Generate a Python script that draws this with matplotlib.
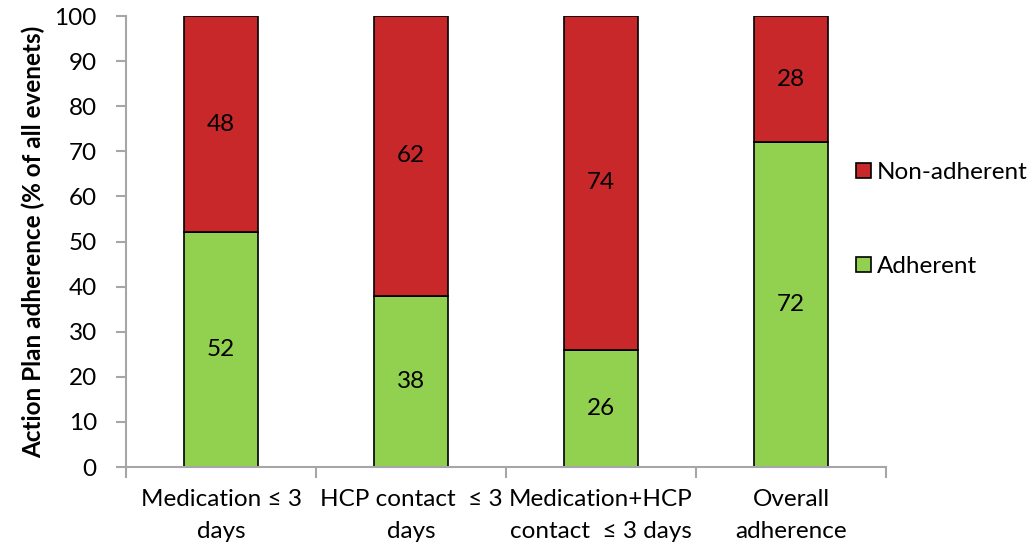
import matplotlib
matplotlib.use("Agg")
import matplotlib.pyplot as plt
from matplotlib.patches import Patch
import numpy as np

categories = ["Medication \u2264 3\ndays", "HCP contact  \u2264 3\ndays",
              "Medication+HCP\ncontact  \u2264 3 days", "Overall\nadherence"]
adherent = [52, 38, 26, 72]
non_adherent = [48, 62, 74, 28]

plt.rcParams['font.family'] = ['Lato', 'DejaVu Sans']
green = "#92D050"
red = "#C9282A"
grey = "#A6A6A6"
FS = 17.5

fig = plt.figure(figsize=(10.32, 5.48), dpi=100)
ax = fig.add_axes([0.1221, 0.1478, 0.8585 - 0.1221, 0.9708 - 0.1478])

x = np.arange(len(categories))
w = 0.39
ax.bar(x, adherent, w, color=green, edgecolor="black", linewidth=1.2)
ax.bar(x, non_adherent, w, bottom=adherent, color=red, edgecolor="black", linewidth=1.2)

for xi, a, n in zip(x, adherent, non_adherent):
    ax.text(xi, a / 2, f"{a}", ha="center", va="center", fontsize=FS)
    ax.text(xi, a + n / 2, f"{n}", ha="center", va="center", fontsize=FS)

ax.set_xlim(-0.5, len(categories) - 0.5)
ax.set_ylim(0, 100)
ax.set_yticks(range(0, 101, 10))
ax.tick_params(axis='y', labelsize=FS, direction='out', length=7, color=grey, width=1.5, pad=14)
ax.set_xticks(x)
ax.set_xticklabels(categories, fontsize=FS, linespacing=1.65)
ax.tick_params(axis='x', length=0, pad=16)
ax.set_xticks(np.arange(-0.5, len(categories)), minor=True)
ax.tick_params(axis='x', which='minor', length=8, color=grey, width=1.5, direction='out')

for s in ["top", "right"]:
    ax.spines[s].set_visible(False)
for s in ["left", "bottom"]:
    ax.spines[s].set_color(grey)
    ax.spines[s].set_linewidth(1.5)

ax.set_ylabel("Action Plan adherence (% of all evenets)", fontsize=17.5, fontweight="bold", labelpad=7)

handles = [Patch(facecolor=red, edgecolor="black", linewidth=1.2, label="Non-adherent"),
           Patch(facecolor=green, edgecolor="black", linewidth=1.2, label="Adherent")]
fig.legend(handles=handles, loc="upper left", bbox_to_anchor=(0.818, 0.726), frameon=False,
           fontsize=FS, handlelength=0.6, handleheight=0.6, handletextpad=0.25, labelspacing=3.0,
           borderpad=0)

fig.savefig("out.png", dpi=100)
